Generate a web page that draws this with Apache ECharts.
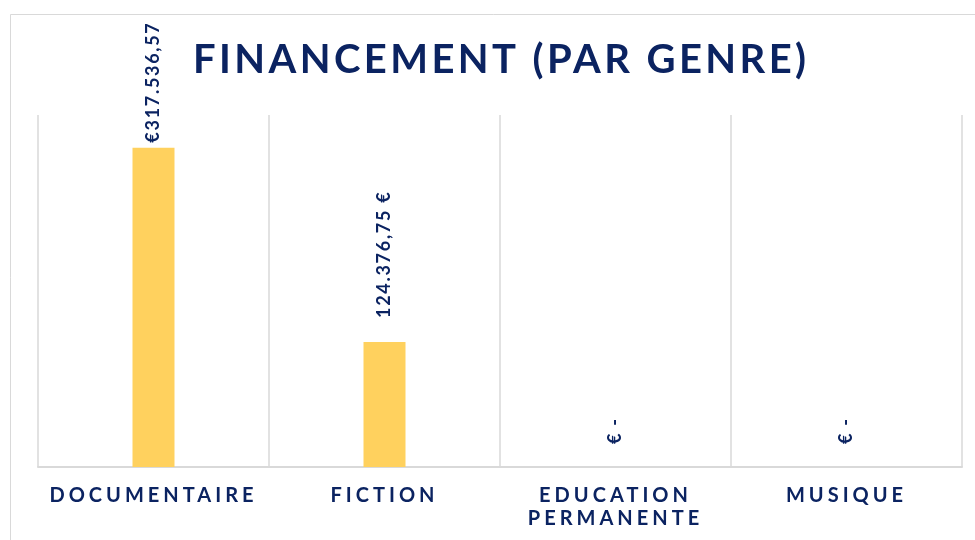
<!DOCTYPE html>
<html>
<head>
<meta charset="utf-8">
<script src="https://cdn.jsdelivr.net/npm/echarts@6/dist/echarts.min.js"></script>
<style>
  html, body { margin: 0; padding: 0; background: #fff; }
  #main { width: 975px; height: 540px; }
</style>
</head>
<body>
<div id="main"></div>
<script>
// données
var genres = ['DOCUMENTAIRE', 'FICTION', 'EDUCATION\nPERMANENTE', 'MUSIQUE'];
var montants = [317536.57, 124376.75, 0, 0];
var etiquettes = ['€317.536,57', '124.376,75 €', '€ -', '€ -'];

var navy = '#0B2361';
// écart étiquette / barre (comme dans Excel, pas régulier)
var ecartEtiquette = [5, 24, 23, 23];

// espacement des lettres selon la taille de police (le canvas d'echarts ne le gère pas)
var espacement = { 40: 3.4, 20: 4.0, 18: 1.7 };
var fillTextOrig = CanvasRenderingContext2D.prototype.fillText;
CanvasRenderingContext2D.prototype.fillText = function (t, x, y, w) {
  var m = /(\d+(?:\.\d+)?)px/.exec(this.font || '');
  var sp = m ? espacement[+m[1]] : 0;
  if (sp && 'letterSpacing' in this) {
    this.letterSpacing = sp + 'px';
    fillTextOrig.call(this, t, x, y, w);
    this.letterSpacing = '0px';
  } else {
    fillTextOrig.call(this, t, x, y, w);
  }
};

var chart = echarts.init(document.getElementById('main'), null, { renderer: 'canvas' });

var option = {
  backgroundColor: '#fff',
  animation: false,
  title: {
    text: 'FINANCEMENT (PAR GENRE)',
    left: 188,
    top: 35,
    textStyle: {
      fontFamily: 'Lato',
      fontWeight: 'bold',
      fontSize: 40,
      color: navy
    }
  },
  graphic: [
    {
      type: 'rect',
      silent: true,
      shape: { x: 10.5, y: 14.5, width: 1000, height: 600 },
      style: { fill: 'none', stroke: '#d9d9d9', lineWidth: 1 }
    }
  ],
  grid: {
    left: 38,
    right: 13,
    top: 115,
    bottom: 73
  },
  xAxis: {
    type: 'category',
    data: genres,
    axisTick: { show: false },
    axisLine: { lineStyle: { color: '#d9d9d9', width: 2 } },
    splitLine: { show: true, lineStyle: { color: '#d9d9d9', width: 1.5 } },
    axisLabel: {
      interval: 0,
      margin: 17,
      fontFamily: 'Lato',
      fontWeight: 'bold',
      fontSize: 20,
      lineHeight: 23,
      color: navy
    }
  },
  yAxis: {
    type: 'value',
    min: 0,
    max: 350000,
    show: false,
    splitLine: { show: false }
  },
  series: [
    {
      type: 'bar',
      barWidth: 42,
      data: montants.map(function (v, i) {
        return {
          value: v,
          label: { distance: ecartEtiquette[i] }
        };
      }),
      itemStyle: { color: '#FFD15E' },
      label: {
        show: true,
        position: 'top',
        rotate: 90,
        align: 'left',
        verticalAlign: 'middle',
        fontFamily: 'Lato',
        fontWeight: 'bold',
        fontSize: 18,
        color: navy,
        formatter: function (p) { return etiquettes[p.dataIndex]; }
      }
    }
  ]
};

chart.setOption(option);
</script>
</body>
</html>
